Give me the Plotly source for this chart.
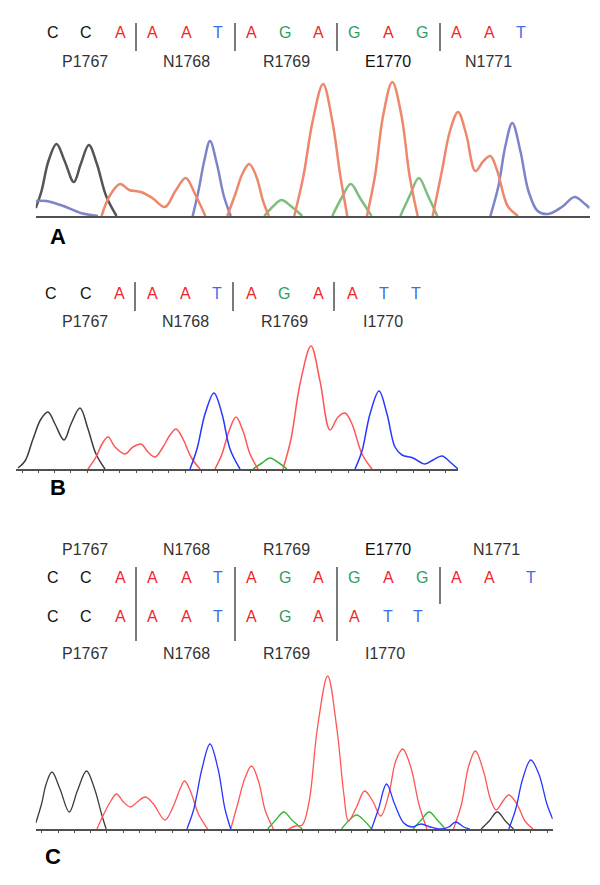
import plotly.graph_objects as go

W, H = 600, 885
OFF = 8                      # default page margin around the plot div
FW, FH = W - 2 * OFF, H - 2 * OFF
K_AC = 1.1538                # pixels per scan unit in panels A and C (B: 1.0)

# ---------------- sequence / label data ----------------
A_bases = list("CCAAATAGAGAGAAT")
A_codons = ["P1767", "N1768", "R1769", "E1770", "N1771"]
B_bases = list("CCAAATAGAATT")
B_codons = ["P1767", "N1768", "R1769", "I1770"]
C_bases_wt = list("CCAAATAGAGAGAAT")
C_codons_wt = ["P1767", "N1768", "R1769", "E1770", "N1771"]
C_bases_mut = list("CCAAATAGAATT")
C_codons_mut = ["P1767", "N1768", "R1769", "I1770"]
panel_labels = ["A", "B", "C"]

# ---------------- trace data (scan position, signal) ----------------
# Panel A
A_black_x = [31, 36, 42, 49, 56, 64, 70, 77, 84, 92, 101]
A_black_y = [8, 25, 55, 72, 55, 34, 52, 71, 52, 20, 0]
A_blue_x = [31, 40, 55, 70, 85, None, 167, 172, 177, 182, 188, 194, 200, None,
            425, 432, 438, 444, 451, 458, 466, 475, 487, 498, 507, 511]
A_blue_y = [15, 15, 10, 3, 0, None, 0, 25, 55, 75, 52, 20, 0, None,
            0, 30, 70, 93, 65, 25, 5, 2, 9, 19, 12, 8]
A_red_x = [88, 95, 104, 112, 122, 132, 143, 152, 161, 169, 178, None,
           197, 204, 210, 216, 222, 228, 233, None,
           255, 263, 271, 280, 288, 295, 301, None,
           318, 325, 332, 340, 348, 355, 362, None,
           375, 383, 390, 397, 404, 412, 419, 425, 431, 440, 449]
A_red_y = [0, 20, 32, 26, 24, 18, 9, 25, 38, 22, 0, None,
           0, 22, 42, 52, 40, 15, 0, None,
           0, 40, 95, 132, 95, 40, 0, None,
           0, 40, 100, 134, 100, 40, 0, None,
           0, 45, 85, 104, 82, 45, 55, 60, 45, 10, 0]
A_green_x = [229, 237, 244, 252, 262, None, 288, 296, 304, 312, 322, None,
             347, 355, 363, 371, 379]
A_green_y = [0, 10, 16, 10, 0, None, 0, 18, 32, 18, 0, None,
             0, 20, 38, 20, 0]

# Panel B
B_black_x = [18, 25, 33, 41, 48, 55, 64, 71, 80, 88, 96, 105]
B_black_y = [1, 8, 30, 50, 57, 45, 29, 45, 61, 40, 15, 0]
B_red_x = [88, 96, 102, 108, 115, 125, 133, 141, 148, 155, 163, 170, 176, 183, 191, 200, None,
           215, 222, 229, 236, 243, 250, 258, None,
           283, 291, 300, 311, 320, 330, 338, 345, 352, 362, 372]
B_red_y = [0, 12, 25, 32, 22, 15, 22, 25, 17, 12, 22, 34, 40, 30, 12, 0, None,
           0, 15, 38, 52, 38, 15, 0, None,
           0, 30, 85, 123, 88, 39, 52, 56, 45, 15, 0]
B_blue_x = [190, 197, 205, 214, 222, 230, 240, None,
            355, 362, 370, 379, 387, 395, 402, 413, 425, 433, 442, 450, 458]
B_blue_y = [0, 20, 55, 76, 55, 20, 0, None,
            0, 18, 55, 78, 55, 22, 14, 11, 5, 9, 13, 7, 0]
B_green_x = [253, 262, 270, 279, 287]
B_green_y = [0, 6, 11, 6, 0]

# Panel C
C_black_x = [31, 36, 40, 45, 52, 60, 67, 75, 82, 88, 92, None,
             417, 424, 431, 438, 445]
C_black_y = [6, 25, 45, 57, 40, 17, 38, 58, 40, 15, 0, None,
             0, 8, 17, 8, 0]
C_red_x = [84, 90, 96, 101, 107, 113, 119, 126, 133, 143, 151, 156, 160, 165, 172, 180, None,
           200, 206, 212, 218, 224, 230, 237, None,
           250, 256, 262, 268, 275, 284, 292, 298, 302, 309, 316, 323, 330, 337, 343, 349, 356, 363, 370, None,
           393, 400, 406, 412, 419, 425, 430, 436, 441, 448, 455, 462]
C_red_y = [0, 15, 28, 35, 27, 22, 27, 32, 25, 9, 25, 40, 48, 38, 15, 0, None,
           0, 25, 50, 63, 48, 18, 0, None,
           0, 3, 4, 28, 100, 153, 100, 35, 8, 22, 38, 28, 13, 35, 68, 80, 62, 25, 0, None,
           0, 25, 62, 78, 58, 30, 19, 28, 34, 25, 8, 0]
C_blue_x = [162, 168, 175, 182, 189, 195, 200, None,
            322, 328, 335, 342, 350, 357, 365, 373, 382, 389, 395, 402, 407, None,
            441, 447, 453, 460, 467, 474, 479]
C_blue_y = [0, 20, 60, 85, 60, 20, 0, None,
            0, 20, 45, 25, 6, 2, 5, 2, 0, 2, 7, 2, 0, None,
            0, 20, 50, 69, 55, 25, 10]
C_green_x = [232, 239, 246, 253, 262, None, 296, 302, 309, 316, 322, None,
             358, 365, 372, 379, 386]
C_green_y = [0, 9, 17, 9, 0, None, 0, 8, 14, 8, 0, None,
             0, 9, 17, 9, 0]

# ---------------- styling / layout constants ----------------
FONT = "Liberation Sans, Arial, sans-serif"
BASE_COL = {"A": "#f0262a", "C": "#111111", "G": "#2e9e5e", "T": "#3a6ee8"}
TRACE_A = {"black": "rgb(85,85,85)", "red": "rgb(238,135,108)",
           "blue": "rgb(125,132,200)", "green": "rgb(125,190,125)"}
TRACE_BC = {"black": "rgb(60,60,60)", "red": "rgb(255,85,85)",
            "blue": "rgb(40,55,255)", "green": "rgb(50,180,50)"}


def px(x):
    return (x - OFF) / FW


def py(y):
    return 1 - (y - OFF) / FH


fig = go.Figure()


def add_traces(series, colors, width, xa, ya):
    for name, (xs, ys) in series.items():
        fig.add_trace(go.Scatter(
            x=xs, y=ys, mode="lines", connectgaps=False, hoverinfo="skip",
            line=dict(color=colors[name], width=width, shape="spline", smoothing=1.0),
            xaxis=xa, yaxis=ya, showlegend=False))


add_traces({"black": (A_black_x, A_black_y), "blue": (A_blue_x, A_blue_y),
            "green": (A_green_x, A_green_y), "red": (A_red_x, A_red_y)},
           TRACE_A, 2.5, "x", "y")
add_traces({"black": (B_black_x, B_black_y), "green": (B_green_x, B_green_y),
            "red": (B_red_x, B_red_y), "blue": (B_blue_x, B_blue_y)},
           TRACE_BC, 1.5, "x2", "y2")
add_traces({"black": (C_black_x, C_black_y), "green": (C_green_x, C_green_y),
            "red": (C_red_x, C_red_y), "blue": (C_blue_x, C_blue_y)},
           TRACE_BC, 1.3, "x3", "y3")

# axes; y baseline at the panel's axis line (1 signal unit = 1 px)
panels = [
    # (x0, x1, scale px/unit, baseline_px, yrange, ticks)
    (31, 511, K_AC, 216, 150, False),
    (16, 458, 1.0, 469, 140, True),
    (31, 479, K_AC, 829, 170, True),
]
layout_axes = {}
for i, (x0, x1, k, base, yr, ticks) in enumerate(panels):
    sfx = "" if i == 0 else str(i + 1)
    layout_axes["xaxis" + sfx] = dict(
        domain=[px(x0 * k), px(x1 * k)], range=[x0, x1], anchor="y" + sfx,
        showgrid=False, zeroline=False, showticklabels=False,
        showline=True, linecolor="#505050", linewidth=1.6,
        ticks="outside" if ticks else "", ticklen=2, tickwidth=1, tickcolor="#505050",
        tick0=x0 + 6 / k, dtick=16.3 / k, fixedrange=True)
    layout_axes["yaxis" + sfx] = dict(
        domain=[py(base), py(base - yr)], range=[0, yr], anchor="x" + sfx,
        visible=False, fixedrange=True)

annotations = []
shapes = []


def seq_row(bases, xs, y, size):
    for b, x in zip(bases, xs):
        annotations.append(dict(x=px(x), y=py(y), xref="paper", yref="paper", text=b,
                                showarrow=False, xanchor="center", yanchor="middle",
                                font=dict(family=FONT, size=size, color=BASE_COL[b])))


def codon_row(codons, xs, y, size, dark=None):
    for c, x in zip(codons, xs):
        col = "#111111" if (dark and c == dark) else "#333333"
        annotations.append(dict(x=px(x), y=py(y), xref="paper", yref="paper", text=c,
                                showarrow=False, xanchor="center", yanchor="middle",
                                font=dict(family=FONT, size=size, color=col)))


def separators(xs, y0s, y1s):
    for x, y0, y1 in zip(xs, y0s, y1s):
        shapes.append(dict(type="line", xref="paper", yref="paper",
                           x0=px(x), x1=px(x), y0=py(y0), y1=py(y1),
                           line=dict(color="#222222", width=1.2)))


# text positions in page pixels
A_base_x = [53, 86, 120, 152, 186, 218, 251, 285, 318, 354, 388, 422, 456, 489, 521]
A_codon_x = [85, 186, 286, 388, 488]
A_sep_x = [136, 235, 337, 440]
B_base_x = [51, 86, 119, 152, 185, 217, 251, 284, 318, 352, 384, 416]
B_codon_x = [85, 185, 284, 383]
B_sep_x = [135, 233, 334]
C_wt_x = [53, 86, 120, 152, 186, 218, 251, 285, 318, 354, 388, 422, 456, 489, 531]
C_codon_wt_x = [85, 186, 286, 388, 496]
C_mut_x = [53, 86, 120, 152, 186, 218, 251, 285, 318, 354, 388, 418]
C_codon_mut_x = [85, 186, 286, 385]
C_sep_x = [136, 235, 337, 440]

# Panel A text
seq_row(A_bases, A_base_x, 33, 16)
codon_row(A_codons, A_codon_x, 62, 16, dark="E1770")
separators(A_sep_x, [23] * 4, [51] * 4)

# Panel B text
seq_row(B_bases, B_base_x, 293, 16)
codon_row(B_codons, B_codon_x, 321, 16)
separators(B_sep_x, [282] * 3, [311] * 3)

# Panel C text
codon_row(C_codons_wt, C_codon_wt_x, 549, 16, dark="E1770")
seq_row(C_bases_wt, C_wt_x, 577, 16)
seq_row(C_bases_mut, C_mut_x, 616, 16)
codon_row(C_codons_mut, C_codon_mut_x, 653, 16)
separators(C_sep_x, [567] * 4, [641, 641, 641, 604])

# panel letters
for lab, (x, y) in zip(panel_labels, [(58, 236), (58, 488), (53, 856)]):
    annotations.append(dict(x=px(x), y=py(y), xref="paper", yref="paper", text="<b>%s</b>" % lab,
                            showarrow=False, xanchor="center", yanchor="middle",
                            font=dict(family=FONT, size=22, color="#000000")))

fig.update_layout(
    width=FW, height=FH, autosize=False,
    margin=dict(l=0, r=0, t=0, b=0),
    paper_bgcolor="white", plot_bgcolor="rgba(0,0,0,0)",
    annotations=annotations, shapes=shapes,
    **layout_axes)

fig.write_html("out.html")
